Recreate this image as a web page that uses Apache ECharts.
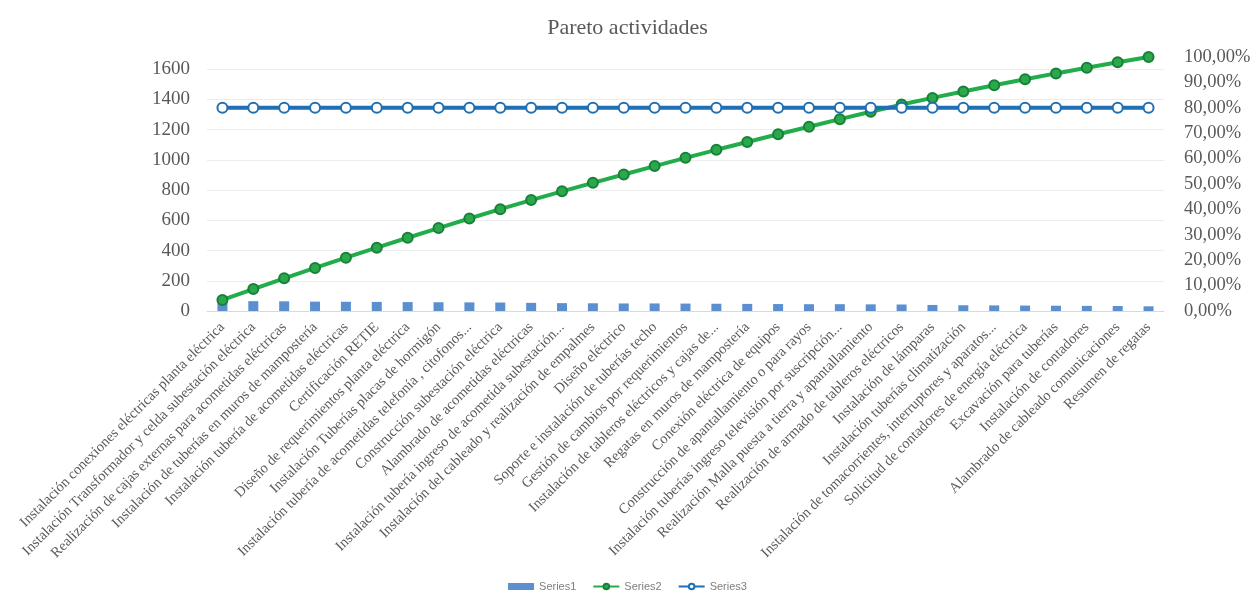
<!DOCTYPE html>
<html>
<head>
<meta charset="utf-8">
<script src="https://cdn.jsdelivr.net/npm/echarts@6/dist/echarts.min.js"></script>
<style>html,body{margin:0;padding:0;background:#fff}#c{width:1255px;height:599px}</style>
</head>
<body>
<div id="c"></div>
<script>
const categories = [
  "Instalación conexiones eléctricas planta eléctrica",
  "Instalación Transformador y celda subestación eléctrica",
  "Realización de cajas externas para acometidas eléctricas",
  "Instalación de tuberías en muros de mampostería",
  "Instalación tubería de acometidas eléctricas",
  "Certificación RETIE",
  "Diseño de requerimientos planta eléctrica",
  "Instalación Tuberías placas de hormigón",
  "Instalación tubería de acometidas telefonía , citofonos...",
  "Construcción subestación eléctrica",
  "Alambrado de acometidas eléctricas",
  "Instalación tubería ingreso de acometida subestación...",
  "Instalación del cableado y realización de empalmes",
  "Diseño eléctrico",
  "Soporte e instalación de tuberías techo",
  "Gestión de cambios por requerimientos",
  "Instalación de tableros eléctricos y cajas de...",
  "Regatas en muros de mampostería",
  "Conexión eléctrica de equipos",
  "Construcción de apantallamiento o para rayos",
  "Instalación tuberías ingreso televisión por suscripción...",
  "Realización Malla puesta a tierra y apantallamiento",
  "Realización de armado de tableros eléctricos",
  "Instalación de lámparas",
  "Instalación tuberías climatización",
  "Instalación de tomacorrientes, interruptores y aparatos...",
  "Solicitud de contadores de energía eléctrica",
  "Excavación para tuberías",
  "Instalación de contadores",
  "Alambrado de cableado comunicaciones",
  "Resumen de regatas"
];
const series1 = [66, 65, 64, 62, 61, 60, 59, 58, 57, 56, 54, 52, 51, 50, 50, 49, 48, 47, 46, 45, 45, 44, 43, 40, 38, 37, 36, 35, 34, 33, 31];
const series2 = [0.0435, 0.0864, 0.1286, 0.1695, 0.2098, 0.2493, 0.2883, 0.3265, 0.3641, 0.4010, 0.4367, 0.4710, 0.5046, 0.5376, 0.5706, 0.6029, 0.6346, 0.6656, 0.6959, 0.7256, 0.7553, 0.7843, 0.8127, 0.8390, 0.8641, 0.8885, 0.9123, 0.9354, 0.9578, 0.9796, 1.0000];
const series3 = [0.8, 0.8, 0.8, 0.8, 0.8, 0.8, 0.8, 0.8, 0.8, 0.8, 0.8, 0.8, 0.8, 0.8, 0.8, 0.8, 0.8, 0.8, 0.8, 0.8, 0.8, 0.8, 0.8, 0.8, 0.8, 0.8, 0.8, 0.8, 0.8, 0.8, 0.8];

const serif = "'Liberation Serif', 'DejaVu Serif', serif";
const chart = echarts.init(document.getElementById('c'));
chart.setOption({
  animation: false,
  backgroundColor: '#fff',
  title: {
    text: 'Pareto actividades', left: 'center', top: 12,
    textStyle: { fontFamily: serif, fontSize: 22, fontWeight: 'normal', color: '#595959' }
  },
  legend: {
    bottom: 2, left: 'center', itemGap: 16, itemWidth: 26, itemHeight: 7,
    textStyle: { fontFamily: "'Liberation Sans', sans-serif", fontSize: 11, color: '#7f7f7f' },
    data: [
      { name: 'Series1', icon: 'rect' },
      { name: 'Series2' },
      { name: 'Series3' }
    ]
  },
  grid: { left: 207, right: 91, top: 57, bottom: 288, containLabel: false },
  xAxis: {
    type: 'category', data: categories, boundaryGap: true,
    axisLine: { lineStyle: { color: '#d9d9d9' } },
    axisTick: { show: false },
    axisLabel: {
      interval: 0, rotate: 45, margin: 14,
      fontFamily: serif, fontSize: 14.5, color: '#595959'
    }
  },
  yAxis: [
    {
      type: 'value', min: 0, max: 1680, interval: 200,
      axisLine: { show: false }, axisTick: { show: false },
      axisLabel: {
        showMaxLabel: false, margin: 17, fontFamily: serif, fontSize: 19, color: '#595959',
        formatter: v => String(v)
      },
      splitLine: { show: true, showMaxLine: false, lineStyle: { color: '#ececec' } }
    },
    {
      type: 'value', min: 0, max: 1, interval: 0.1,
      axisLine: { show: false }, axisTick: { show: false },
      axisLabel: {
        margin: 20, fontFamily: serif, fontSize: 18.5, color: '#595959',
        formatter: v => (v * 100).toFixed(2).replace('.', ',') + '%'
      },
      splitLine: { show: false }
    }
  ],
  series: [
    {
      name: 'Series1', type: 'bar', data: series1, yAxisIndex: 0, barWidth: 10,
      itemStyle: { color: '#5b8fd0' }
    },
    {
      name: 'Series2', type: 'line', data: series2, yAxisIndex: 1,
      symbol: 'circle', symbolSize: 10,
      lineStyle: { color: '#22ad4b', width: 4 },
      itemStyle: { color: '#2aa84a', borderColor: '#17803a', borderWidth: 2 }
    },
    {
      name: 'Series3', type: 'line', data: series3, yAxisIndex: 1,
      symbol: 'emptyCircle', symbolSize: 10,
      lineStyle: { color: '#1f6fb5', width: 4 },
      itemStyle: { color: '#1f6fb5', borderColor: '#1f6fb5', borderWidth: 3 }
    }
  ]
});
</script>
</body>
</html>
